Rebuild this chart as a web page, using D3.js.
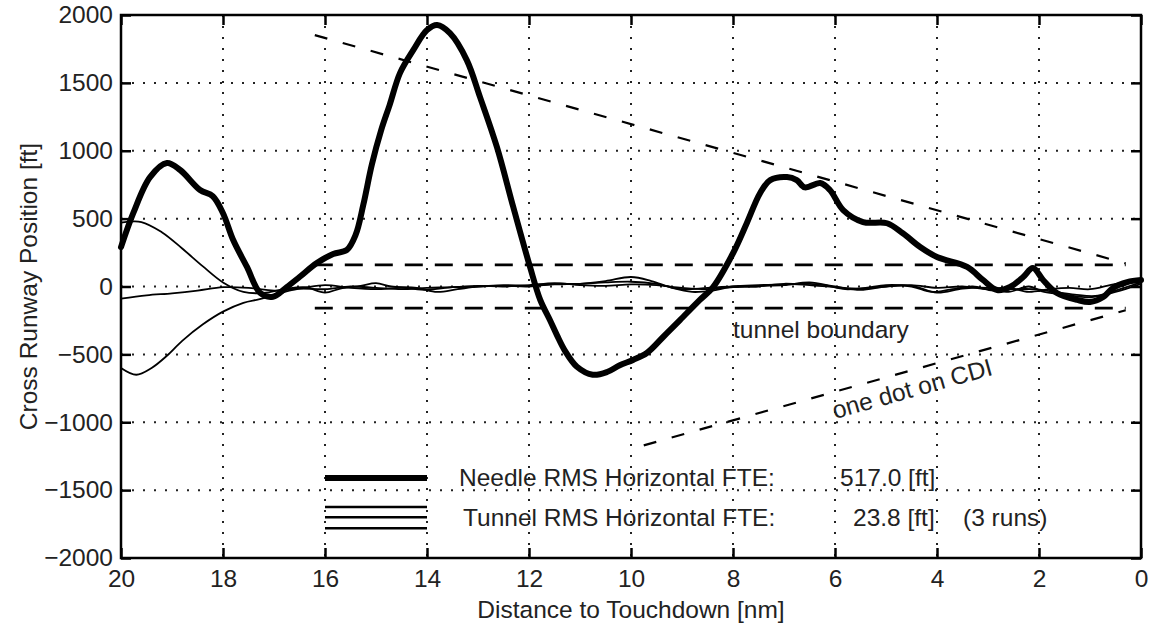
<html>
<head>
<meta charset="utf-8">
<title>cross runway position</title>
<script src="https://d3js.org/d3.v7.min.js"></script>
<style>
body { margin: 0; background: #fff; }
svg { font-family: 'Liberation Sans', Arial, sans-serif; }
text { fill: #222; }
</style>
</head>
<body>
<svg id="chart" width="1151" height="626"></svg>
<script>
// tick values
var xTicks = [20, 18, 16, 14, 12, 10, 8, 6, 4, 2, 0];
var yTicks = [-2000, -1500, -1000, -500, 0, 500, 1000, 1500, 2000];

// needle run (distance nm, cross runway ft)
var needle = [[20,290],[19.76,540],[19.43,806],[19.1,910],[18.84,858],[18.45,711],[18.2,665],[18.0,540],
  [17.8,342],[17.53,144],[17.27,-48],[17.02,-75],[16.75,-4],[16.5,70],[16.16,173],[15.84,240],[15.57,270],
  [15.4,380],[15.25,600],[15.08,900],[14.9,1150],[14.73,1340],[14.53,1572],[14.27,1741],[14.0,1889],[13.8,1926],
  [13.55,1866],[13.22,1668],[12.96,1395],[12.63,1028],[12.31,587],[11.98,144],[11.78,-99],[11.59,-247],
  [11.45,-360],[11.3,-470],[11.06,-591],[10.75,-650],[10.47,-630],[10.22,-580],[9.96,-541],[9.69,-490],
  [9.37,-372],[9.04,-247],[8.65,-99],[8.39,-4],[8.0,245],[7.73,466],[7.47,687],[7.27,784],[6.94,806],
  [6.75,784],[6.59,730],[6.29,762],[6.1,711],[5.84,563],[5.45,475],[4.98,466],[4.67,392],[4.33,291],
  [4.0,217],[3.41,144],[3.1,48],[2.82,-26],[2.57,-4],[2.31,70],[2.12,136],[1.92,48],[1.65,-48],
  [1.25,-99],[1.0,-114],[0.74,-77],[0.55,-11],[0.27,33],[0,48]];

// tunnel runs
var tunnelA = [[20,470],[19.6,475],[19.2,400],[18.8,280],[18.4,150],[18.0,30],[17.6,-40],[17.2,-48],
  [16.8,-20],[16.4,-5],[16.0,-45],[15.7,-15],[15.3,5],[15.0,25],[14.7,0],[14.2,-10],[13.8,-40],[13.4,-20],
  [13.0,0],[12.5,5],[12.0,0],[11.5,20],[11.0,20],[10.5,40],[10.0,70],[9.6,40],[9.2,-10],[8.8,-40],[8.4,-30],
  [8.0,0],[7.5,10],[7.0,15],[6.5,20],[6.2,10],[5.8,-20],[5.4,-10],[5.0,10],[4.5,0],[4.1,-40],[3.7,-20],
  [3.3,0],[2.9,-30],[2.5,-20],[2.1,-20],[1.7,-40],[1.3,-60],[0.9,-70],[0.5,-30],[0,30]];
var tunnelB = [[20,-90],[19.5,-65],[19,-50],[18.5,-30],[18.0,-5],[17.5,-10],[17.0,-30],[16.5,-15],[16.0,-20],
  [15.5,0],[15.0,-10],[14.5,-20],[14.0,-10],[13.5,-5],[13.0,5],[12.5,0],[12.0,10],[11.5,25],[11.0,10],
  [10.5,5],[10.0,15],[9.5,10],[9.0,-10],[8.5,-20],[8.0,-5],[7.5,0],[7.0,20],[6.5,10],[6.0,-5],[5.5,-15],
  [5.0,0],[4.5,10],[4.0,-10],[3.5,0],[3.0,-20],[2.6,-10],[2.2,-40],[1.8,-20],[1.4,-10],[1.0,-20],[0.5,20],[0,40]];
var tunnelC = [[20,-600],[19.7,-650],[19.4,-600],[19.1,-510],[18.8,-400],[18.4,-280],[18.0,-185],[17.6,-120],
  [17.3,-95],[17.0,-65],[16.7,-30],[16.4,-10],[16.0,10],[15.5,-10],[15.0,-20],[14.5,-10],[14.0,-25],
  [13.5,-5],[13.0,0],[12.5,10],[12.0,5],[11.5,15],[11.0,20],[10.5,30],[10.0,35],[9.5,20],[9.0,-20],
  [8.5,-10],[8.0,0],[7.5,5],[7.0,10],[6.5,30],[6.0,0],[5.5,-25],[5.0,0],[4.5,5],[4.0,-45],[3.5,-15],
  [3.0,-10],[2.6,-40],[2.2,0],[1.9,-40],[1.5,-60],[1.0,-80],[0.5,-40],[0,20]];

// reference lines
var tunnelUpper = [[16.2,160],[0.3,160]];
var tunnelLower = [[16.2,-160],[0.3,-160]];
var cdiUpper = [[16.2,1852],[0.3,170]];
var cdiLower = [[9.75,-1170],[0.3,-175]];

// legend
var legendNeedle = [[16,-1410],[14,-1410]];
var legendTunnel = [[[16,-1625],[14,-1625]],[[16,-1700],[14,-1700]],[[16,-1780],[14,-1780]]];
var needleRms = "517.0 [ft]";
var tunnelRms = "23.8 [ft]";

var svg = d3.select("#chart");
var pLeft = 121, pRight = 1141, pTop = 15, pBottom = 558;

var x = d3.scaleLinear().domain([20, 0]).range([pLeft, pRight]);
var y = d3.scaleLinear().domain([-2000, 2000]).range([pBottom, pTop]);

var line = d3.line()
  .x(function (d) { return x(d[0]); })
  .y(function (d) { return y(d[1]); });
var smooth = d3.line()
  .x(function (d) { return x(d[0]); })
  .y(function (d) { return y(d[1]); })
  .curve(d3.curveCatmullRom.alpha(0.5));

// grid
svg.append("g").selectAll("line").data(xTicks.slice(1, -1)).enter().append("line")
  .attr("x1", function (d) { return x(d); }).attr("x2", function (d) { return x(d); })
  .attr("y1", pTop).attr("y2", pBottom)
  .style("stroke", "#222").style("stroke-width", 2).style("stroke-dasharray", "2,9");
svg.append("g").selectAll("line").data(yTicks.slice(1, -1)).enter().append("line")
  .attr("y1", function (d) { return y(d); }).attr("y2", function (d) { return y(d); })
  .attr("x1", pLeft).attr("x2", pRight)
  .style("stroke", "#222").style("stroke-width", 2).style("stroke-dasharray", "2,9");

// dashed boundaries
[tunnelUpper, tunnelLower].forEach(function (p) {
  svg.append("path").attr("d", line(p)).style("fill", "none").style("stroke", "#000")
    .style("stroke-width", 2.7).style("stroke-dasharray", "18,12");
});
[cdiUpper, cdiLower].forEach(function (p) {
  svg.append("path").attr("d", line(p)).style("fill", "none").style("stroke", "#000")
    .style("stroke-width", 2.2).style("stroke-dasharray", "13,16");
});

// tunnel runs
[tunnelA, tunnelB, tunnelC].forEach(function (p) {
  svg.append("path").attr("d", smooth(p)).style("fill", "none").style("stroke", "#000")
    .style("stroke-width", 1.8).style("stroke-linejoin", "round");
});

// needle run
svg.append("path").attr("d", smooth(needle)).style("fill", "none").style("stroke", "#000")
  .style("stroke-width", 6).style("stroke-linejoin", "round").style("stroke-linecap", "round");

// legend
svg.append("path").attr("d", line(legendNeedle)).style("stroke", "#000").style("stroke-width", 6);
legendTunnel.forEach(function (p) {
  svg.append("path").attr("d", line(p)).style("stroke", "#000").style("stroke-width", 2.5);
});
svg.append("text").text("Needle RMS Horizontal FTE:").attr("x", 459).attr("y", 486).attr("font-size", 24.5);
svg.append("text").text(needleRms).attr("x", 840).attr("y", 486).attr("font-size", 24.5);
svg.append("text").text("Tunnel RMS Horizontal FTE:").attr("x", 463).attr("y", 526).attr("font-size", 24.5);
svg.append("text").text(tunnelRms).attr("x", 853).attr("y", 526).attr("font-size", 24.5);
svg.append("text").text("(3 runs)").attr("x", 963).attr("y", 526).attr("font-size", 24.5);

// annotations
svg.append("text").text("tunnel boundary").attr("x", 733).attr("y", 338).attr("font-size", 24.5);
svg.append("text").text("one dot on CDI").attr("font-size", 24.5)
  .attr("transform", "translate(835,419) rotate(-15.6)");

// axes with inward ticks
var fmt = d3.format("d");
svg.append("g").attr("transform", "translate(0," + pBottom + ")")
  .call(d3.axisBottom(x).tickValues(xTicks).tickSize(-10).tickSizeOuter(0).tickPadding(12).tickFormat(fmt))
  .call(function (g) { g.select(".domain").remove(); });
svg.append("g").attr("transform", "translate(0," + pTop + ")")
  .call(d3.axisTop(x).tickValues(xTicks).tickSize(-10).tickSizeOuter(0).tickFormat(""))
  .call(function (g) { g.select(".domain").remove(); });
svg.append("g").attr("transform", "translate(" + pLeft + ",0)")
  .call(d3.axisLeft(y).tickValues(yTicks).tickSize(-10).tickSizeOuter(0).tickPadding(8).tickFormat(fmt))
  .call(function (g) { g.select(".domain").remove(); });
svg.append("g").attr("transform", "translate(" + pRight + ",0)")
  .call(d3.axisRight(y).tickValues(yTicks).tickSize(-10).tickSizeOuter(0).tickFormat(""))
  .call(function (g) { g.select(".domain").remove(); });
svg.selectAll(".tick line").style("stroke", "#000").style("stroke-width", 2.5);
svg.selectAll(".tick text").attr("font-size", 24.5).attr("font-family", "'Liberation Sans', Arial, sans-serif").style("fill", "#222");

// box
svg.append("rect").attr("x", pLeft).attr("y", pTop).attr("width", pRight - pLeft).attr("height", pBottom - pTop)
  .style("fill", "none").style("stroke", "#000").style("stroke-width", 2.5);

// axis labels
svg.append("text").text("Distance to Touchdown [nm]").attr("x", (pLeft + pRight) / 2).attr("y", 618)
  .attr("text-anchor", "middle").attr("font-size", 24.5);
svg.append("text").text("Cross Runway Position [ft]").attr("text-anchor", "middle").attr("font-size", 24.5)
  .attr("transform", "translate(37," + (pTop + pBottom) / 2 + ") rotate(-90)");
</script>
</body>
</html>
